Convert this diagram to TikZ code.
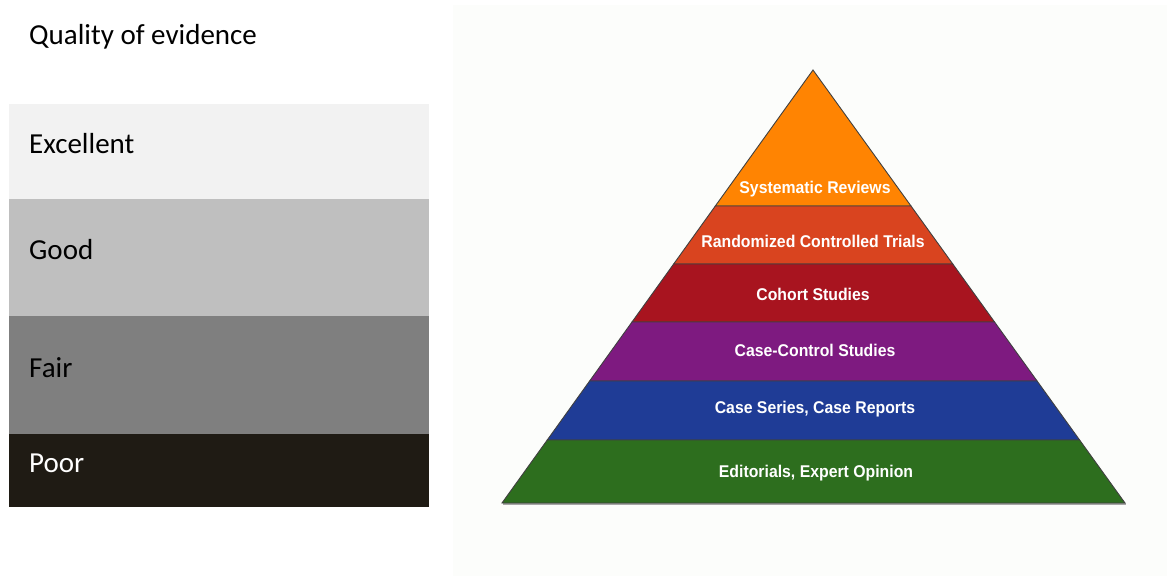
\documentclass[tikz,border=0pt]{standalone}
\usepackage{fontspec}
\setmainfont{Carlito}
\newfontfamily\pyrfont{Liberation Sans}
\usetikzlibrary{calc}

\definecolor{qexcellent}{HTML}{F2F2F2}
\definecolor{qgood}{HTML}{BFBFBF}
\definecolor{qfair}{HTML}{7F7F7F}
\definecolor{qpoor}{HTML}{1F1B14}
\definecolor{panelbg}{HTML}{FCFDFB}
\definecolor{lvsys}{HTML}{FF8402}
\definecolor{lvrct}{HTML}{D9441F}
\definecolor{lvcoh}{HTML}{A8141F}
\definecolor{lvcc}{HTML}{7E1A80}
\definecolor{lvcs}{HTML}{1F3C96}
\definecolor{lved}{HTML}{2D6E1E}

\tikzset{
  bandlabel/.style={anchor=base west, inner sep=0pt, font=\fontsize{29}{32}\selectfont},
  layer/.style={draw=black!75, line width=0.9pt, line join=miter},
  layerlabel/.style={text=white, inner sep=0pt, font=\pyrfont\bfseries\fontsize{17}{20}\selectfont, xscale=0.93}
}

\begin{document}
\begin{tikzpicture}[x=1pt,y=-1pt]
  \useasboundingbox (0,0) rectangle (1171,576);
  \fill[white] (0,0) rectangle (1171,576);

  % quality scale on the left
  \node[bandlabel] (title) at (29,44) {Quality of evidence};
  \fill[qexcellent] (9,104) rectangle (429,199);
  \fill[qgood]      (9,199) rectangle (429,316);
  \fill[qfair]      (9,316) rectangle (429,434);
  \fill[qpoor]      (9,434) rectangle (429,507);
  \node[bandlabel] (excellent) at (29,153) {Excellent};
  \node[bandlabel] (good)      at (29,259) {Good};
  \node[bandlabel] (fair)      at (29,377) {Fair};
  \node[bandlabel, text=white] (poor) at (29,472) {Poor};

  % evidence pyramid on the right
  \fill[panelbg] (453,5) rectangle (1167,576);
  \coordinate (apex) at (813,70);
  \coordinate (bl) at (502,503);
  \coordinate (br) at (1125,503);
  \foreach \n/\t in {1/0.3141, 2/0.4480, 3/0.5820, 4/0.7182, 5/0.8545} {
    \coordinate (l\n) at ($(apex)!\t!(bl)$);
    \coordinate (r\n) at ($(apex)!\t!(br)$);
  }
  \fill[black!35] ($(bl)+(1,2)$) -- ($(br)+(1,2)$) -- ($(br)+(1,0)$) -- ($(bl)+(1,0)$) -- cycle;
  \filldraw[layer, fill=lvsys] (apex) -- (r1) -- (l1) -- cycle;
  \filldraw[layer, fill=lvrct] (l1) -- (r1) -- (r2) -- (l2) -- cycle;
  \filldraw[layer, fill=lvcoh] (l2) -- (r2) -- (r3) -- (l3) -- cycle;
  \filldraw[layer, fill=lvcc]  (l3) -- (r3) -- (r4) -- (l4) -- cycle;
  \filldraw[layer, fill=lvcs]  (l4) -- (r4) -- (r5) -- (l5) -- cycle;
  \filldraw[layer, fill=lved]  (l5) -- (r5) -- (br) -- (bl) -- cycle;

  \node[layerlabel] (sys) at (815,189) {Systematic Reviews};
  \node[layerlabel] (rct) at (813,241) {Randomized Controlled Trials};
  \node[layerlabel] (coh) at (813,294) {Cohort Studies};
  \node[layerlabel] (cc)  at (815,350) {Case-Control Studies};
  \node[layerlabel] (cs)  at (815,409) {Case Series, Case Reports};
  \node[layerlabel] (ed)  at (816,473) {Editorials, Expert Opinion};
\end{tikzpicture}
\end{document}
